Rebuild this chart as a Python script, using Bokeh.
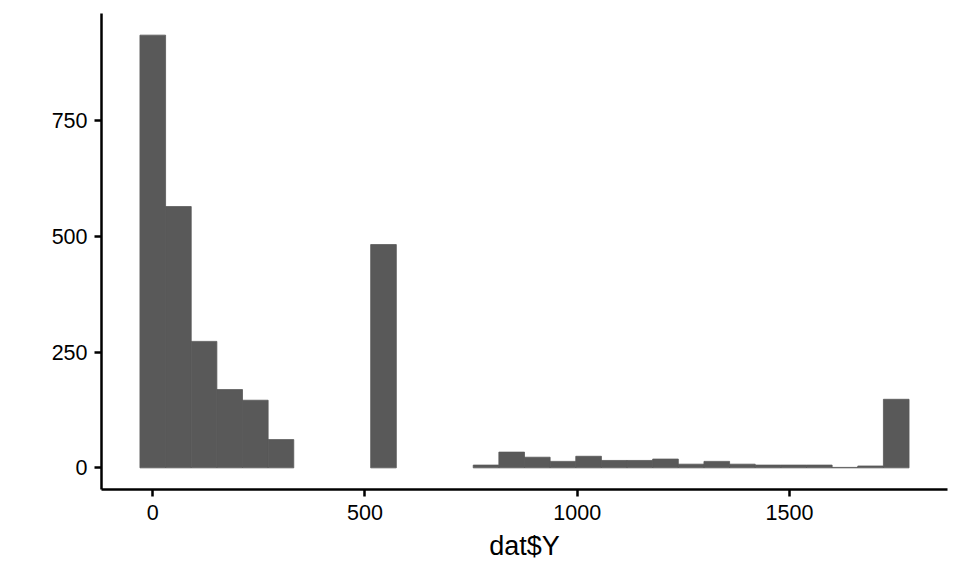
from bokeh.plotting import figure
from bokeh.models import FixedTicker, Range1d, ColumnDataSource
from bokeh.embed import file_html
from bokeh.resources import INLINE

# Histogram: 30 bins of width ~60.4 centred on multiples of the bin width
bin_width = 60.4
bin_centers = [i * bin_width for i in range(30)]
counts = [934, 564, 273, 169, 146, 61, 0, 0, 0, 482,
          0, 0, 0, 6, 34, 23, 14, 25, 16, 16,
          19, 8, 14, 8, 6, 6, 6, 1, 4, 148]
x_ticks = [0, 500, 1000, 1500]
y_ticks = [0, 250, 500, 750]
x_label = "dat$Y"

lefts = [c - bin_width / 2 for c in bin_centers]
rights = [c + bin_width / 2 for c in bin_centers]

xmin, xmax = lefts[0], rights[-1]
xpad = (xmax - xmin) * 0.05
ymax = max(counts)
ypad = ymax * 0.05

keep = [i for i, c in enumerate(counts) if c > 0]
src = ColumnDataSource(dict(
    left=[lefts[i] for i in keep],
    right=[rights[i] for i in keep],
    top=[counts[i] for i in keep],
))

p = figure(width=951, height=566, output_backend="svg", toolbar_location=None,
           x_range=Range1d(xmin - xpad, xmax + xpad),
           y_range=Range1d(-ypad, ymax + ypad),
           min_border_left=101, min_border_right=4, min_border_top=13,
           min_border_bottom=77)

p.quad(left="left", right="right", bottom=0, top="top", source=src,
       fill_color="#595959", line_color="#595959", line_width=0.8)

p.outline_line_color = None
p.xgrid.visible = False
p.ygrid.visible = False
p.background_fill_color = "white"
p.border_fill_color = "white"

for ax in (p.xaxis[0], p.yaxis[0]):
    ax.axis_line_color = "black"
    ax.axis_line_width = 2.5
    ax.major_tick_line_color = "black"
    ax.major_tick_line_width = 2.5
    ax.major_tick_out = 7
    ax.major_tick_in = 0
    ax.minor_tick_line_color = None
    ax.major_label_text_font = "Liberation Sans"
    ax.major_label_text_font_size = "21.5px"
    ax.major_label_text_color = "black"

p.xaxis[0].ticker = FixedTicker(ticks=x_ticks)
p.yaxis[0].ticker = FixedTicker(ticks=y_ticks)
p.xaxis[0].major_label_standoff = 8
p.yaxis[0].major_label_standoff = 7
p.xaxis[0].axis_label = x_label
p.xaxis[0].axis_label_text_font = "Liberation Sans"
p.xaxis[0].axis_label_text_font_size = "27px"
p.xaxis[0].axis_label_text_font_style = "normal"
p.xaxis[0].axis_label_text_color = "black"
p.xaxis[0].axis_label_standoff = 8

open("out.html", "w").write(file_html(p, INLINE))
